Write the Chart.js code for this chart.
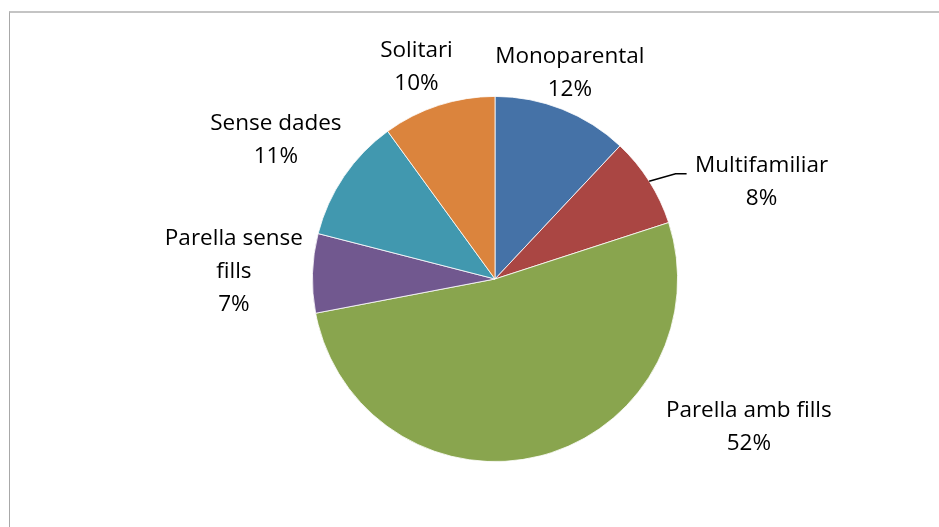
<!DOCTYPE html>
<html lang="ca">
<head>
<meta charset="UTF-8">
<title>Tipus de llar</title>
<script src="https://cdn.jsdelivr.net/npm/chart.js"></script>
<style>
    html, body { margin: 0; padding: 0; background: #fff; overflow: hidden; }
    #wrap { position: relative; width: 939px; height: 527px; }
    #marc {
        position: absolute; left: 9px; top: 11px; width: 1000px; height: 600px;
        border-left: 1px solid #a8a8a8; border-top: 2px solid #c4c4c4;
    }
    canvas { position: absolute; left: 0; top: 0; }
</style>
</head>
<body>
<div id="wrap">
    <div id="marc"></div>
    <canvas id="grafic" width="939" height="527"></canvas>
</div>
<script>
    const categories = ['Monoparental', 'Multifamiliar', 'Parella amb fills', 'Parella sense fills', 'Sense dades', 'Solitari'];
    const percentatges = [12, 8, 52, 7, 11, 10];
    const colors = ['#4572A7', '#AA4643', '#89A54E', '#71588F', '#4198AF', '#DB843D'];

    // línies de cada etiqueta (com a l'original)
    const etiquetes = [
        ['Monoparental'],
        ['Multifamiliar'],
        ['Parella amb fills'],
        ['Parella sense', 'fills'],
        ['Sense dades'],
        ['Solitari']
    ];

    // desplaçament del centre de l'etiqueta respecte al centre del pastís (en radis)
    const posEtiquetes = [
        [0.41, -1.13], [1.46, -0.53], [1.39, 0.81], [-1.43, -0.04], [-1.20, -0.76], [-0.43, -1.16]
    ];

    const etiquetesPlugin = {
        id: 'etiquetes',
        afterDatasetsDraw(chart) {
            const ctx = chart.ctx;
            const meta = chart.getDatasetMeta(0);
            ctx.save();
            ctx.font = '22.5px "Open Sans"';
            ctx.fillStyle = '#000';
            ctx.textAlign = 'center';
            ctx.textBaseline = 'middle';
            const lh = 33;
            meta.data.forEach((arc, i) => {
                const r = arc.outerRadius;
                const cx = arc.x + posEtiquetes[i][0] * r;
                const cy = arc.y + posEtiquetes[i][1] * r;
                const linies = etiquetes[i].concat([percentatges[i] + '%']);
                const y0 = cy - (linies.length - 1) * lh / 2;
                linies.forEach((t, k) => ctx.fillText(t, cx, y0 + k * lh));

                // línia guia només per a Multifamiliar
                if (i === 1) {
                    const mid = (arc.startAngle + arc.endAngle) / 2;
                    const px = arc.x + Math.cos(mid) * r;
                    const py = arc.y + Math.sin(mid) * r;
                    ctx.beginPath();
                    ctx.strokeStyle = '#000';
                    ctx.lineWidth = 1.5;
                    ctx.moveTo(px, py);
                    ctx.lineTo(cx - 86, y0 + 8);
                    ctx.lineTo(cx - 75, y0 + 8);
                    ctx.stroke();
                }
            });
            ctx.restore();
        }
    };

    new Chart(document.getElementById('grafic'), {
        type: 'pie',
        data: {
            labels: categories,
            datasets: [{
                data: percentatges,
                backgroundColor: colors,
                borderColor: '#ffffff',
                borderWidth: 0.8
            }]
        },
        options: {
            responsive: false,
            animation: false,
            layout: { padding: { left: 312, right: 261, top: 96, bottom: 65 } },
            plugins: {
                legend: { display: false },
                tooltip: { enabled: false }
            }
        },
        plugins: [etiquetesPlugin]
    });
</script>
</body>
</html>
